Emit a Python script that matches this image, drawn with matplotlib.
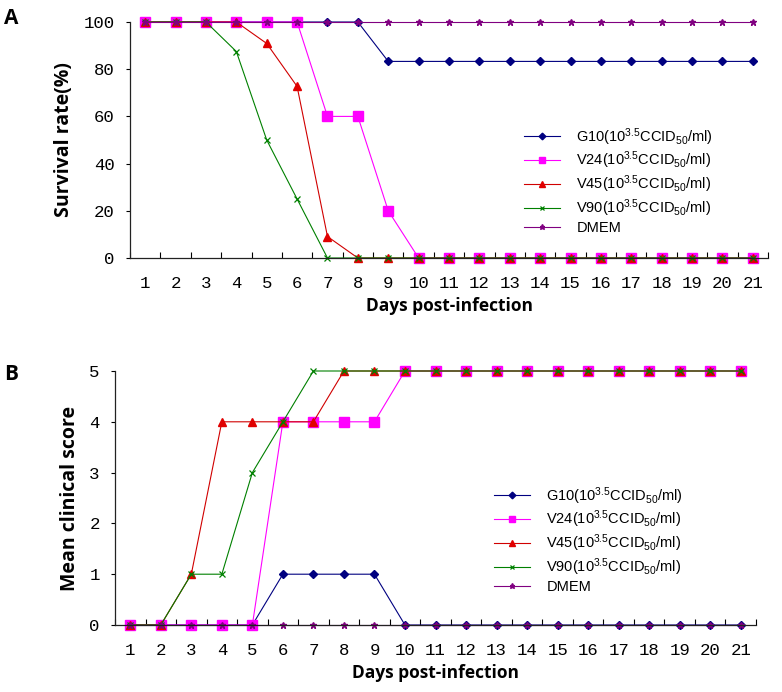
import matplotlib
matplotlib.use('Agg')
import matplotlib.pyplot as plt
from matplotlib.ticker import FixedLocator

plt.rcParams['mathtext.fontset'] = 'custom'
plt.rcParams['mathtext.rm'] = 'Liberation Sans'
plt.rcParams['mathtext.it'] = 'Liberation Sans:italic'
plt.rcParams['mathtext.bf'] = 'Liberation Sans:bold'

days = list(range(1, 22))
labels = [
    r'G10(10$^{3.5}$CCID$_{50}$/ml)',
    r'V24(10$^{3.5}$CCID$_{50}$/ml)',
    r'V45(10$^{3.5}$CCID$_{50}$/ml)',
    r'V90(10$^{3.5}$CCID$_{50}$/ml)',
    'DMEM',
]

# survival rate (%)
surv_g10 = [100] * 8 + [83.3] * 13
surv_v24 = [100] * 6 + [60, 60, 20] + [0] * 12
surv_v45 = [100] * 4 + [90.9, 72.7, 9.1] + [0] * 14
surv_v90 = [100] * 3 + [87.5, 50, 25] + [0] * 15
surv_dmem = [100] * 21

# mean clinical score
score_g10 = [0] * 5 + [1, 1, 1, 1] + [0] * 12
score_v24 = [0] * 5 + [4, 4, 4, 4] + [5] * 12
score_v45 = [0, 0, 1, 4, 4, 4, 4] + [5] * 14
score_v90 = [0, 0, 1, 1, 3, 4] + [5] * 15
score_dmem = [0] * 21

styles = [
    dict(color='#000080', marker='D', ms=4.5, mfc='#000080', mec='#000080'),
    dict(color='#ff00ff', marker='s', ms=6.5, mfc='#ff00ff', mec='#ff00ff'),
    dict(color='#d00000', marker='^', ms=6, mfc='#e00000', mec='#e00000'),
    dict(color='#008000', marker='x', ms=4.5, mfc='#008000', mec='#008000', mew=0.9),
    dict(color='#800080', marker='*', ms=5, mfc='#800080', mec='#800080'),
]

tick_font = dict(family='Liberation Mono', size=12.5)
xlabel_font = dict(family='Open Sans', weight='bold', size=12.5)
ylabel_font = dict(family='Open Sans', weight='bold', size=14)

fig = plt.figure(figsize=(7.82, 6.92), dpi=100)


def draw_panel(ax, series, ylim, yticks, ylabel, leg_anchor):
    for vals, lab, st in zip(series, labels, styles):
        ax.plot(days, vals, lw=0.8, label=lab, clip_on=False, **st)
    ax.set_xlim(0.5, 21.5)
    ax.set_ylim(*ylim)
    ax.spines['top'].set_visible(False)
    ax.spines['right'].set_visible(False)
    for s in ('left', 'bottom'):
        ax.spines[s].set_linewidth(0.9)
        ax.spines[s].set_color('#222222')
    ax.set_xticks(days)
    ax.set_xticklabels([str(d) for d in days], fontdict=tick_font)
    ax.xaxis.set_minor_locator(FixedLocator([d + 0.5 for d in range(0, 22)]))
    ax.tick_params(axis='x', which='major', length=0, pad=13)
    ax.tick_params(axis='x', which='minor', direction='in', length=4, width=0.8)
    ax.set_yticks(yticks)
    ax.set_yticklabels([str(v) for v in yticks], fontdict=tick_font)
    ax.tick_params(axis='y', direction='out', length=3, width=0.8, pad=8)
    ax.set_xlabel('Days post-infection', fontdict=xlabel_font, labelpad=4)
    ax.set_ylabel(ylabel, fontdict=ylabel_font, labelpad=7)
    ax.legend(loc='upper left', bbox_to_anchor=leg_anchor,
              bbox_transform=fig.transFigure, frameon=False,
              prop=dict(family='Liberation Sans', size=10.5),
              handlelength=2.5, handletextpad=1.1, labelspacing=0.15,
              markerscale=0.75, borderpad=0, borderaxespad=0)


ax_a = fig.add_axes([130 / 782, 1 - 258 / 692, 638 / 782, 236 / 692])
draw_panel(ax_a, [surv_g10, surv_v24, surv_v45, surv_v90, surv_dmem],
           (0, 100), [0, 20, 40, 60, 80, 100], 'Survival rate(%)',
           (524 / 782, 1 - 126 / 692))

ax_b = fig.add_axes([115 / 782, 1 - 625 / 692, 641 / 782, 254 / 692])
draw_panel(ax_b, [score_g10, score_v24, score_v45, score_v90, score_dmem],
           (0, 5), [0, 1, 2, 3, 4, 5], 'Mean clinical score',
           (494 / 782, 1 - 485 / 692))

fig.text(4 / 782, 1 - 19 / 692, 'A', family='Open Sans', weight='bold',
         size=15, va='center', ha='left')
fig.text(4 / 782, 1 - 374 / 692, 'B', family='Open Sans', weight='bold',
         size=15, va='center', ha='left')

fig.savefig('out.png', dpi=100)
